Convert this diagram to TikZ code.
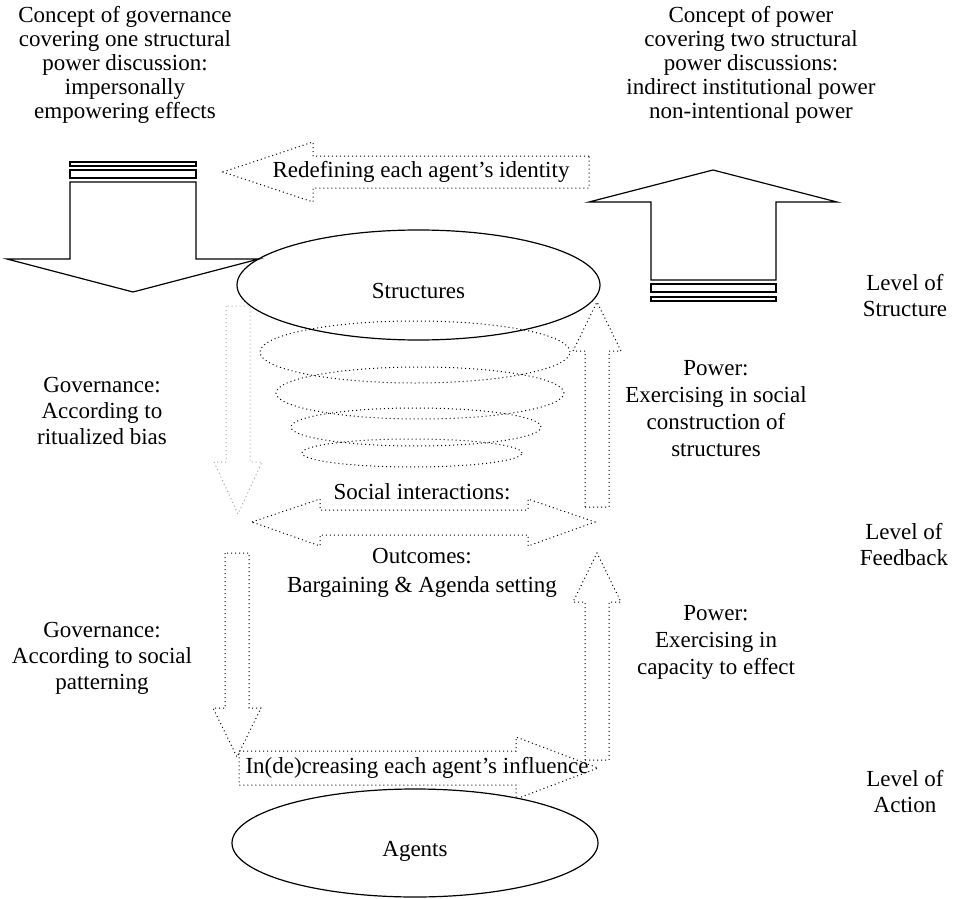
\documentclass[tikz,border=0pt]{standalone}
\usepackage{fontspec}
\setmainfont{Liberation Serif}
\usetikzlibrary{shapes.geometric}

\begin{document}
\begin{tikzpicture}[x=1pt,y=-1pt,
        solidline/.style={line width=1.2pt,line join=miter},
        dotline/.style={line width=1pt,dash pattern=on 1pt off 3pt},
        greydots/.style={dotline,draw=black!35},
        txt/.style={align=center,inner sep=0pt,font=\fontsize{23}{26}\selectfont},
        toptxt/.style={txt,font=\fontsize{23}{24}\selectfont}]
                \useasboundingbox (0,0) rectangle (954,899);
                % the two concepts on top
                \node[toptxt] (govconcept) at (125,65) {Concept of governance\\covering one structural\\power discussion:\\impersonally\\empowering effects};
                \node[toptxt] (powconcept) at (751,65) {Concept of power\\covering two structural\\power discussions:\\indirect institutional power\\non-intentional power};
                \draw[solidline] (70,182) -- (70,259) -- (7,259) -- (133,292) -- (259,259) -- (196,259) -- (196,182) -- cycle;
                \draw[solidline] (70,170) rectangle (196,178) (70,162) rectangle (196,166);
                \draw[solidline] (651,280) -- (651,202) -- (589,202) -- (713,170) -- (837,202) -- (776,202) -- (776,280) -- cycle;
                \draw[solidline] (651,284) rectangle (776,292) (651,297) rectangle (776,301);
                \draw[dotline] (589,156) -- (313,156) -- (313,142) -- (223,172) -- (313,202) -- (313,188) -- (589,188) -- cycle;
                \node[txt] (redefine) at (421,172) {Redefining each agent's identity};
                % structures and the spiral
                \node[draw,ellipse,solidline,txt,minimum width=363pt,minimum height=110pt,text height=26pt,text depth=0pt] (structures) at (418.5,285) {Structures};
                \foreach \cx/\cy/\rx/\ry in {415/352/155/31, 420/393/144/26, 416/427/125/19, 412/453/110/14}
                    \draw[dotline] (\cx,\cy) ellipse (\rx pt and \ry pt);
                % vertical block arrows
                \foreach \x/\ya/\yb/\yc/\s in {238/306/462/514/greydots, 237/553/708/757/dotline, 597/507/351/302/dotline, 597/760/602/553/dotline}
                    \draw[\s] (\x-12,\ya) -- (\x-12,\yb) -- (\x-24,\yb) -- (\x,\yc) -- (\x+24,\yb) -- (\x+12,\yb) -- (\x+12,\ya) -- cycle;
                \draw[dotline] (252,522) -- (320,499) -- (320,510) -- (528,510) -- (528,499) -- (595,522) -- (528,546) -- (528,535) -- (320,535) -- (320,546) -- cycle;
                \node[txt] (social) at (422,492) {Social interactions:};
                \node[txt,font=\fontsize{23}{29}\selectfont] (outcomes) at (422,573) {Outcomes:\\Bargaining \& Agenda setting};
                \draw[dotline] (239,751) -- (516,751) -- (516,737) -- (598,768) -- (516,799) -- (516,785) -- (239,785) -- cycle;
                \node[txt] (influence) at (417,768) {In(de)creasing each agent's influence};
                \node[draw,ellipse,solidline,txt,minimum width=366pt,minimum height=108pt,text height=26pt,text depth=0pt] (agents) at (415,843) {Agents};
                % side labels
                \node[txt] (govritual) at (102,411) {Governance:\\According to\\ritualized bias};
                \node[txt] (govpattern) at (102,658) {Governance:\\According to social\\patterning};
                \node[txt,font=\fontsize{23}{27}\selectfont] (powstruct) at (716,409) {Power:\\Exercising in social\\construction of\\structures};
                \node[txt,font=\fontsize{23}{27}\selectfont] (powcapacity) at (716,642) {Power:\\Exercising in\\capacity to effect};
                \node[txt] (lvlstruct) at (905,296) {Level of\\Structure};
                \node[txt] (lvlfeed) at (904,545) {Level of\\Feedback};
                \node[txt] (lvlaction) at (905,792) {Level of\\Action};
\end{tikzpicture}
\end{document}
